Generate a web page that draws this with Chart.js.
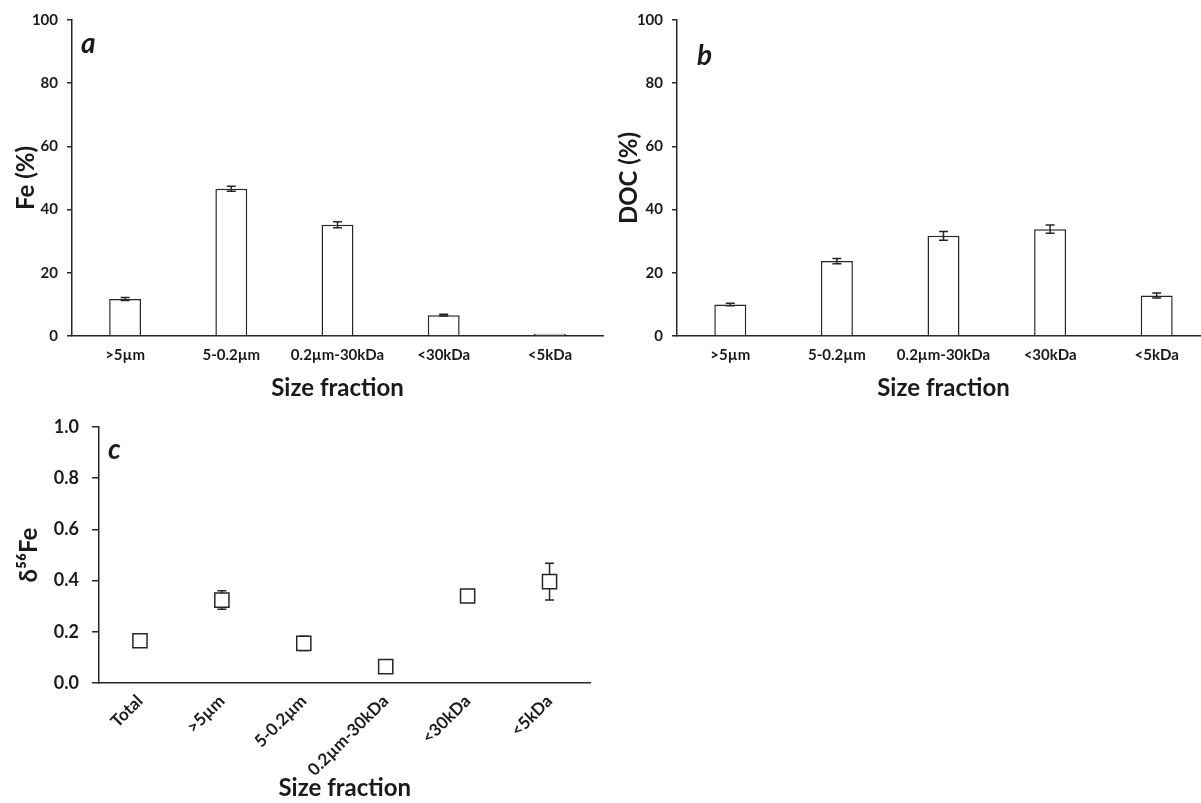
<!DOCTYPE html>
<html>
<head>
<meta charset="utf-8">
<script src="https://cdn.jsdelivr.net/npm/chart.js@4/dist/chart.umd.min.js"></script>
<style>
  html, body { margin:0; padding:0; background:#fff; overflow:hidden; width:1201px; height:803px; }
  canvas { position:absolute; }
  .plab { position:absolute; font-family: Lato, "Open Sans", sans-serif; font-weight:bold; font-style:italic; font-size:28px; color:#1a1a1a; line-height:1; }
</style>
</head>
<body>
<canvas id="ca" width="604" height="400" style="left:0;top:0"></canvas>
<canvas id="cb" width="610" height="400" style="left:600px;top:0"></canvas>
<canvas id="cc" width="602" height="403" style="left:0;top:400px"></canvas>
<div class="plab" style="left:81px;top:28px">a</div>
<div class="plab" style="left:697px;top:40px">b</div>
<div class="plab" style="left:108px;top:434px">c</div>
<script>
// ---- data ----
const categoriesAB = ['>5µm', '5-0.2µm', '0.2µm-30kDa', '<30kDa', '<5kDa'];
const feValues = [11.7, 46.6, 35.2, 6.6, 0.7];
const feErrors = [0.5, 0.8, 0.95, 0.3, 0];
const docValues = [10.0, 23.7, 31.7, 33.8, 12.8];
const docErrors = [0.4, 0.8, 1.4, 1.3, 0.8];
const categoriesC = ['Total', '>5µm', '5-0.2µm', '0.2µm-30kDa', '<30kDa', '<5kDa'];
const d56Values = [0.165, 0.324, 0.155, 0.064, 0.340, 0.396];
const d56Errors = [0, 0.036, 0.028, 0, 0, 0.072];
const percentRange = [0, 100, 20];   // min, max, step
const deltaRange = [0, 1.0, 0.2];

const INK = '#1a1a1a';
const LINE = '#262626';
const FONT = 'Lato, "Open Sans", sans-serif';

function drawErr(chart, errs, cap) {
  const meta = chart.getDatasetMeta(0);
  const ys = chart.scales.y;
  const vals = chart.data.datasets[0].data;
  const ctx = chart.ctx;
  ctx.save();
  ctx.strokeStyle = LINE;
  ctx.lineWidth = 1.5;
  meta.data.forEach((el, i) => {
    const e = errs[i];
    if (!e) return;
    const x = el.x;
    const y1 = ys.getPixelForValue(vals[i] + e);
    const y2 = ys.getPixelForValue(vals[i] - e);
    ctx.beginPath();
    ctx.moveTo(x, y1); ctx.lineTo(x, y2);
    ctx.moveTo(x - cap/2, y1); ctx.lineTo(x + cap/2, y1);
    ctx.moveTo(x - cap/2, y2); ctx.lineTo(x + cap/2, y2);
    ctx.stroke();
  });
  ctx.restore();
}

const errPlugin = {
  id: 'errbars',
  beforeDatasetsDraw(chart, args, opts) { if (opts.before) drawErr(chart, opts.err, opts.cap); },
  afterDatasetsDraw(chart, args, opts) { if (!opts.before) drawErr(chart, opts.err, opts.cap); }
};
Chart.register(errPlugin);

function barChart(id, labels, values, errs, yTitle, yWidth, titlePad, padRight) {
  return new Chart(document.getElementById(id), {
    type: 'bar',
    data: { labels: labels, datasets: [{
      data: values, backgroundColor: '#ffffff', borderColor: LINE, borderWidth: 1.5,
      barPercentage: 0.3, categoryPercentage: 1.0
    }]},
    options: {
      responsive: false, animation: false, devicePixelRatio: 1,
      layout: { padding: { top: 20, right: padRight, bottom: 0, left: 0 } },
      plugins: { legend: { display: false }, tooltip: { enabled: false },
                 errbars: { err: errs, cap: 9, before: false } },
      scales: {
        x: {
          grid: { display: false, drawTicks: false },
          border: { display: true, color: LINE, width: 1.5 },
          ticks: { color: INK, font: { family: FONT, size: 15, weight: 'bold' }, padding: 10, maxRotation: 0, autoSkip: false },
          title: { display: true, text: 'Size fraction', color: INK, font: { family: FONT, size: 24, weight: 'bold', lineHeight: 1 }, padding: { top: 0, bottom: 0 } },
          afterFit(s) { s.height = 64; }
        },
        y: {
          min: percentRange[0], max: percentRange[1],
          grid: { display: true, drawOnChartArea: false, drawTicks: true, tickLength: 5, color: LINE, lineWidth: 1.5 },
          border: { display: true, color: LINE, width: 1.5 },
          ticks: { stepSize: percentRange[2], color: INK, font: { family: FONT, size: 15, weight: 'bold' }, padding: 9 },
          title: { display: true, text: yTitle, color: INK, font: { family: FONT, size: 24, weight: 'bold', lineHeight: 1.2 }, padding: { top: titlePad, bottom: 0 } },
          afterFit(s) { s.width = yWidth; }
        }
      }
    }
  });
}

barChart('ca', categoriesAB, feValues, feErrors, 'Fe (%)', 72, 12, 1);
barChart('cb', categoriesAB, docValues, docErrors, 'DOC (%)', 77, 15, 0);

new Chart(document.getElementById('cc'), {
  type: 'line',
  data: { labels: categoriesC, datasets: [{
    data: d56Values, showLine: false, pointStyle: 'rect', pointRadius: 10,
    pointBackgroundColor: '#ffffff', pointBorderColor: LINE, pointBorderWidth: 1.5
  }]},
  options: {
    responsive: false, animation: false, devicePixelRatio: 1,
    layout: { padding: { top: 27, right: 2, bottom: 0, left: 0 } },
    plugins: { legend: { display: false }, tooltip: { enabled: false },
               errbars: { err: d56Errors, cap: 9, before: true } },
    scales: {
      x: {
        offset: true,
        grid: { display: false, drawTicks: false },
        border: { display: true, color: LINE, width: 1.5 },
        ticks: { color: INK, font: { family: FONT, size: 17, weight: 'bold' }, padding: 8, minRotation: 45, maxRotation: 45, autoSkip: false },
        title: { display: true, text: 'Size fraction', color: INK, font: { family: FONT, size: 24, weight: 'bold', lineHeight: 1 }, padding: { top: 0, bottom: 3 } },
        afterFit(s) { s.height = 120; }
      },
      y: {
        min: deltaRange[0], max: deltaRange[1],
        grid: { display: true, drawOnChartArea: false, drawTicks: true, tickLength: 7, color: LINE, lineWidth: 1.5 },
        border: { display: true, color: LINE, width: 1.5 },
        ticks: { stepSize: deltaRange[2], color: INK, font: { family: FONT, size: 18, weight: 'bold' }, padding: 13,
                 callback: v => Number(v).toFixed(1) },
        title: { display: true, text: 'δ⁵⁶Fe', color: INK, font: { family: FONT, size: 24, weight: 'bold', lineHeight: 1.2 }, padding: { top: 15, bottom: 0 } },
        afterFit(s) { s.width = 99; }
      }
    }
  }
});
</script>
</body>
</html>
